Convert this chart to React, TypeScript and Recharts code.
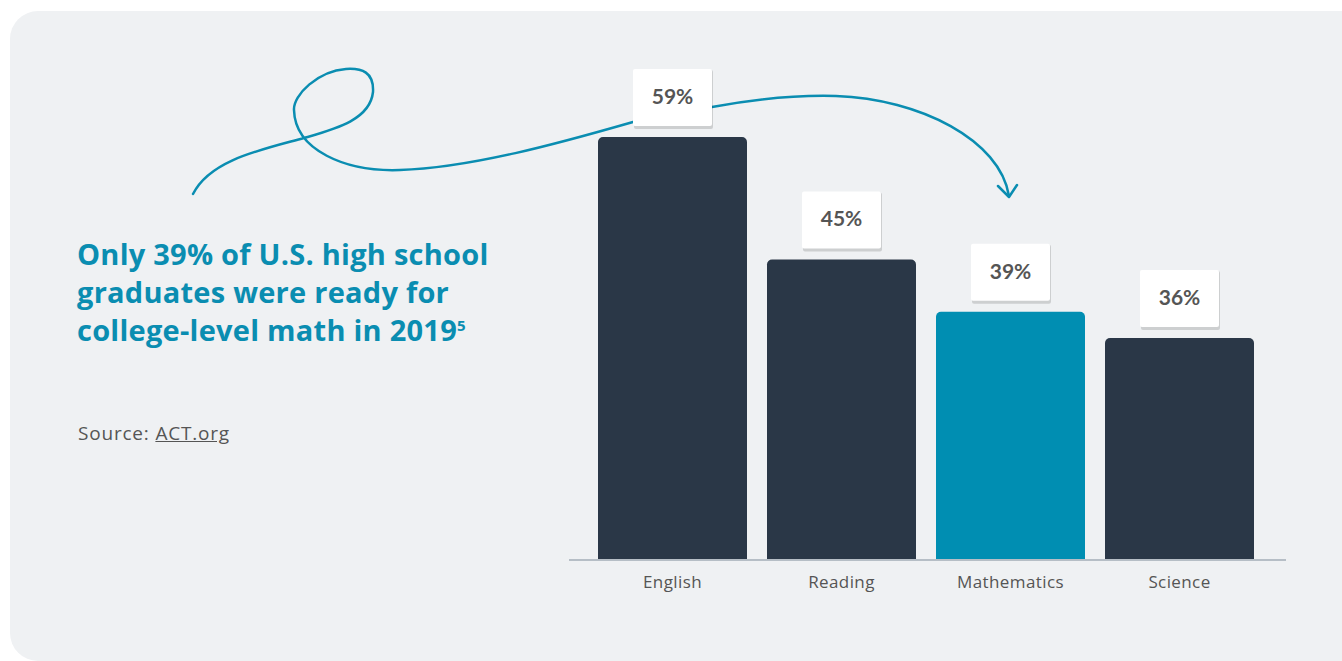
import { Bar, BarChart, Cell, LabelList, XAxis, YAxis } from 'recharts';

const subjects = ['English', 'Reading', 'Mathematics', 'Science'];
const readyPct = [59, 45, 39, 36];
const highlight = 'Mathematics';

const data = subjects.map((s, i) => ({ subject: s, pct: readyPct[i] }));

const TEAL = '#008eb2';
const NAVY = '#2a3747';
const FONT = '"Open Sans", Lato, sans-serif';
const LABEL_FONT = 'Lato, "Open Sans", sans-serif';

function ValueBox(props: any) {
  const { x, y, width, value } = props;
  const w = 79;
  const h = 57;
  const cx = x + width / 2;
  const top = y - 11 - h;
  return (
    <g>
      <rect x={cx - w / 2 + 1} y={top + 1} width={w} height={h + 2} rx={2} fill="rgba(0,0,0,0.14)" />
      <rect x={cx - w / 2} y={top} width={w} height={h} rx={2} fill="#ffffff" />
      <text
        x={cx}
        y={top + h / 2 + 1}
        textAnchor="middle"
        dominantBaseline="middle"
        fontFamily={LABEL_FONT}
        fontSize={21}
        fontWeight={700}
        fill="#555555"
      >
        {value}%
      </text>
    </g>
  );
}

export default function App() {
  return (
    <div style={{ position: 'absolute', left: 0, top: 0, width: 1342, height: 661, background: '#fff', overflow: 'hidden' }}>
      <div
        style={{
          position: 'absolute',
          left: 10,
          top: 11,
          width: 1380,
          height: 650,
          borderRadius: 28,
          background: '#eff1f3',
        }}
      />
      {/* decorative squiggle */}
      <svg width={1342} height={661} style={{ position: 'absolute', left: 0, top: 0 }}>
        <g fill="none" stroke="#0a8db1" strokeWidth={2.5} strokeLinecap="round" strokeLinejoin="round">
          <path d="M193,194 C210,160 260,150 304,138 C335,129 370,120 373,92 C374,72 362,68 346,69 C318,71 293,95 294,110 C295,150 345,172 400,170 C470,168 560,143 633,122" />
          <path d="M712,107 C760,98 800,95 836,96 C920,99 1000,140 1009,196" />
          <path d="M998,186 L1009,197 L1017,185" />
        </g>
      </svg>
      <div
        style={{
          position: 'absolute',
          left: 77,
          top: 235,
          fontFamily: FONT,
          fontWeight: 700,
          fontSize: 29,
          lineHeight: '38px',
          color: '#0a8db1',
          letterSpacing: 0.25,
          whiteSpace: 'nowrap',
        }}
      >
        Only 39% of U.S. high school
        <br />
        graduates were ready for
        <br />
        college-level math in 2019<sup style={{ fontSize: 15, verticalAlign: 'top', lineHeight: '28px' }}>5</sup>
      </div>
      <div
        style={{
          position: 'absolute',
          left: 78,
          top: 420,
          fontFamily: FONT,
          fontSize: 19,
          letterSpacing: 0.8,
          color: '#555555',
        }}
      >
        Source: <span style={{ textDecoration: 'underline' }}>ACT.org</span>
      </div>
      <div style={{ position: 'absolute', left: 0, top: 0 }}>
        <BarChart
          width={1342}
          height={661}
          data={data}
          margin={{ top: 41, right: 56, bottom: 71, left: 569 }}
          barSize={149}
        >
          <XAxis
            dataKey="subject"
            padding={{ left: 19, right: 22 }}
            tickLine={false}
            axisLine={{ stroke: '#b6bec6', strokeWidth: 2 }}
            tick={{ fontSize: 17, fill: '#555555', fontFamily: FONT, letterSpacing: 0.4 }}
            tickMargin={10}
            height={30}
          />
          <YAxis hide domain={[10.6, 70]} allowDataOverflow />
          <Bar dataKey="pct" radius={[5, 5, 0, 0]} isAnimationActive={false}>
            {data.map((d) => (
              <Cell key={d.subject} fill={d.subject === highlight ? TEAL : NAVY} />
            ))}
            <LabelList dataKey="pct" content={ValueBox} />
          </Bar>
        </BarChart>
      </div>
    </div>
  );
}
